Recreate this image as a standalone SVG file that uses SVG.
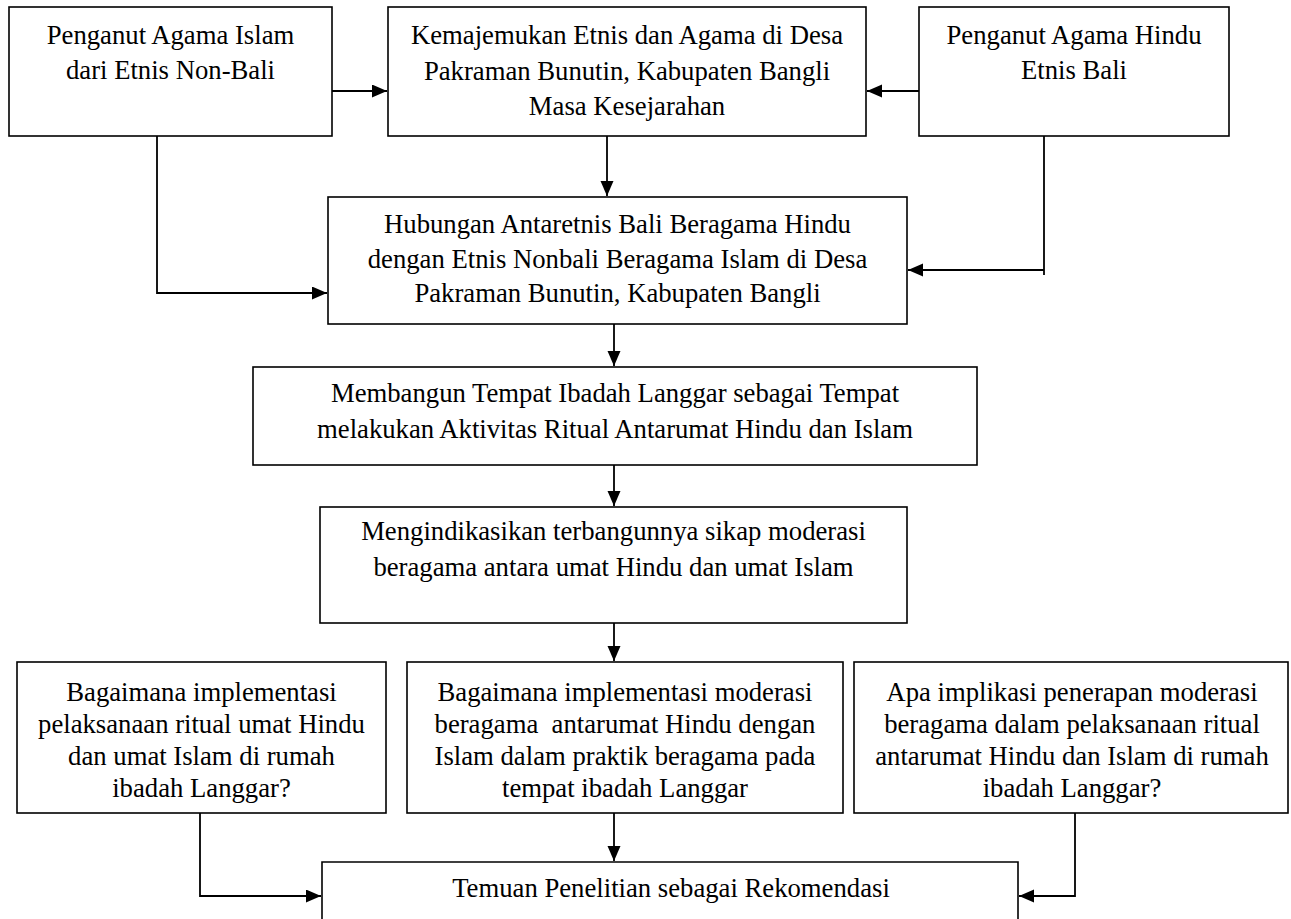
<svg xmlns="http://www.w3.org/2000/svg" width="1291" height="919" viewBox="0 0 1291 919">
<style>
.box{fill:#fff;stroke:#000;stroke-width:1.6}
.t{font-family:"Liberation Serif","Times New Roman",serif;font-size:26.7px;fill:#000;text-anchor:middle}
.c{fill:none;stroke:#000;stroke-width:1.8}
</style>
<defs>
<marker id="ah" markerUnits="userSpaceOnUse" markerWidth="16" markerHeight="14" refX="15" refY="6.5" orient="auto">
<path d="M0,0 L15,6.5 L0,13 Z" fill="#000"/>
</marker>
</defs>
<rect width="1291" height="919" fill="#fff"/>
<g id="connectors">
<path class="c" d="M332,91 H387" marker-end="url(#ah)"/>
<path class="c" d="M919,91 H867" marker-end="url(#ah)"/>
<path class="c" d="M607,136 V196" marker-end="url(#ah)"/>
<path class="c" d="M157,136 V293 H327" marker-end="url(#ah)"/>
<path class="c" d="M1044,136 V275"/>
<path class="c" d="M1044,270 H908" marker-end="url(#ah)"/>
<path class="c" d="M614,324 V366" marker-end="url(#ah)"/>
<path class="c" d="M614,465 V506" marker-end="url(#ah)"/>
<path class="c" d="M614,623 V661" marker-end="url(#ah)"/>
<path class="c" d="M614,813 V861" marker-end="url(#ah)"/>
<path class="c" d="M200,813 V896 H321" marker-end="url(#ah)"/>
<path class="c" d="M1075,813 V896 H1019" marker-end="url(#ah)"/>
</g>
<g id="n1">
<rect class="box" x="9" y="7" width="323" height="129"/>
<text class="t" x="170.5" y="43.5">Penganut Agama Islam</text>
<text class="t" x="170.5" y="79">dari Etnis Non-Bali</text>
</g>
<g id="n2">
<rect class="box" x="388" y="7" width="478" height="129"/>
<text class="t" x="627" y="44">Kemajemukan Etnis dan Agama di Desa</text>
<text class="t" x="627" y="79.5">Pakraman Bunutin, Kabupaten Bangli</text>
<text class="t" x="627" y="115">Masa Kesejarahan</text>
</g>
<g id="n3">
<rect class="box" x="919" y="7" width="310" height="129"/>
<text class="t" x="1074" y="43.5">Penganut Agama Hindu</text>
<text class="t" x="1074" y="79">Etnis Bali</text>
</g>
<g id="n4">
<rect class="box" x="328" y="197" width="579" height="127"/>
<text class="t" x="617.5" y="233">Hubungan Antaretnis Bali Beragama Hindu</text>
<text class="t" x="617.5" y="268">dengan Etnis Nonbali Beragama Islam di Desa</text>
<text class="t" x="617.5" y="302">Pakraman Bunutin, Kabupaten Bangli</text>
</g>
<g id="n5">
<rect class="box" x="253" y="367" width="724" height="98"/>
<text class="t" x="615" y="402">Membangun Tempat Ibadah Langgar sebagai Tempat</text>
<text class="t" x="615" y="438">melakukan Aktivitas Ritual Antarumat Hindu dan Islam</text>
</g>
<g id="n6">
<rect class="box" x="320" y="507" width="587" height="116"/>
<text class="t" x="613.5" y="540">Mengindikasikan terbangunnya sikap moderasi</text>
<text class="t" x="613.5" y="576">beragama antara umat Hindu dan umat Islam</text>
</g>
<g id="n7">
<rect class="box" x="17" y="662" width="369" height="151"/>
<text class="t" x="201.5" y="701">Bagaimana implementasi</text>
<text class="t" x="201.5" y="733">pelaksanaan ritual umat Hindu</text>
<text class="t" x="201.5" y="765">dan umat Islam di rumah</text>
<text class="t" x="201.5" y="797">ibadah Langgar?</text>
</g>
<g id="n8">
<rect class="box" x="407" y="662" width="436" height="151"/>
<text class="t" x="625" y="701">Bagaimana implementasi moderasi</text>
<text class="t" x="625" y="733" xml:space="preserve">beragama  antarumat Hindu dengan</text>
<text class="t" x="625" y="765">Islam dalam praktik beragama pada</text>
<text class="t" x="625" y="797">tempat ibadah Langgar</text>
</g>
<g id="n9">
<rect class="box" x="854" y="662" width="434" height="151"/>
<text class="t" x="1072" y="701">Apa implikasi penerapan moderasi</text>
<text class="t" x="1072" y="733">beragama dalam pelaksanaan ritual</text>
<text class="t" x="1072" y="765">antarumat Hindu dan Islam di rumah</text>
<text class="t" x="1072" y="797">ibadah Langgar?</text>
</g>
<g id="n10">
<path class="box" d="M322,925 V862 H1018 V925"/>
<text class="t" x="671" y="897">Temuan Penelitian sebagai Rekomendasi</text>
</g>
</svg>
